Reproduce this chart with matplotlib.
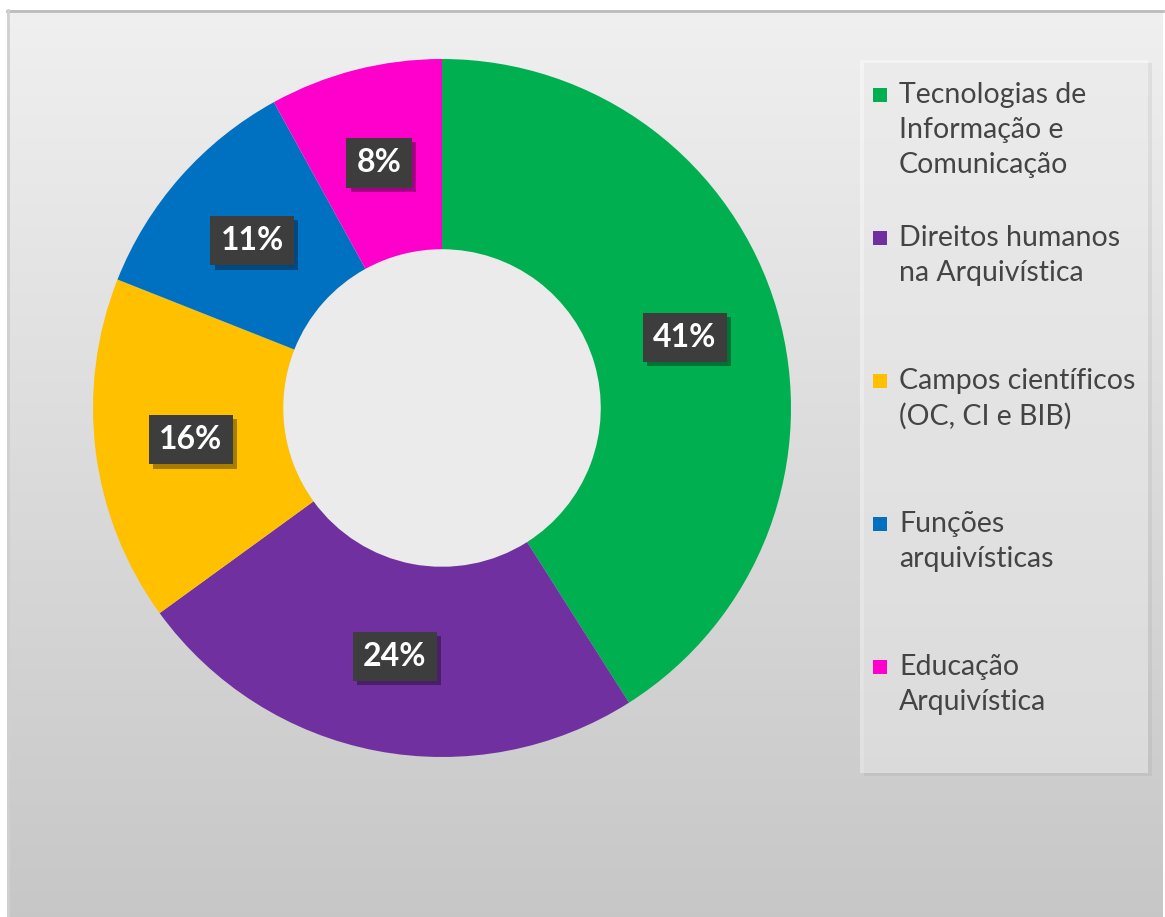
import matplotlib.pyplot as plt
import numpy as np
from matplotlib.patches import Rectangle, Circle
import matplotlib.patheffects as pe

# data
categories = ['Tecnologias de\nInformação e\nComunicação',
              'Direitos humanos\nna Arquivística',
              'Campos científicos\n(OC, CI e BIB)',
              'Funções\narquivísticas',
              'Educação\nArquivística']
values = [41, 24, 16, 11, 8]
colors = ['#00b050', '#7030a0', '#ffc000', '#0070c0', '#ff00cc']

W, H = 1165, 917
fig = plt.figure(figsize=(W / 100, H / 100), dpi=100)
fig.patch.set_facecolor('white')

# background panel with a vertical grey gradient (pixel coordinates)
bg = fig.add_axes([0, 0, 1, 1])
bg.set_xlim(0, W)
bg.set_ylim(H, 0)
bg.axis('off')
g = np.linspace(0, 1, 256)[:, None, None]
top = np.array([0.94, 0.94, 0.94])
bot = np.array([0.78, 0.78, 0.78])
img = top * (1 - g) + bot * g
bg.imshow(img, extent=[7, 1163, 917, 10], aspect='auto', zorder=0)
bg.plot([7, 1163], [11, 11], color='#bcbcbc', lw=2, zorder=1)
bg.plot([8, 8], [10, 917], color='#d0d0d0', lw=2, zorder=1)

# legend box
bg.add_patch(Rectangle((864, 63), 288, 713, fc='#808080', alpha=0.12, ec='none', zorder=1))
bg.add_patch(Rectangle((860, 60), 288, 713, fc='white', alpha=0.4, ec='none', zorder=2))
for i, (lab, c) in enumerate(zip(categories, colors)):
    y0 = 95 + i * 143
    bg.add_patch(Rectangle((873, y0 - 7), 14, 14, fc=c, ec='none', zorder=3))
    bg.text(899, y0 - 13, lab, ha='left', va='top', fontsize=20.5, family='Lato',
            color='#444444', linespacing=1.42, zorder=3)

# donut
R = 349
ax = fig.add_axes([(442 - R) / W, (H - 408 - R) / H, 2 * R / W, 2 * R / H])
wedges, _ = ax.pie(values, colors=colors, startangle=90, counterclock=False,
                   radius=1, wedgeprops=dict(width=0.545, linewidth=0))
ax.add_patch(Circle((0, 0), 0.455, fc='#ebebeb', ec='none', zorder=0))
ax.set_xlim(-1, 1)
ax.set_ylim(-1, 1)
ax.axis('off')

for w, v in zip(wedges, values):
    ang = np.deg2rad((w.theta1 + w.theta2) / 2)
    r = 0.725
    x, y = r * np.cos(ang), r * np.sin(ang)
    t = ax.text(x, y, f'{v}%', ha='center', va='center', fontsize=23, fontweight='bold',
                family='Lato', color='white',
                bbox=dict(boxstyle='square,pad=0.32', fc='#3d3d3d', ec='none'))
    t.get_bbox_patch().set_path_effects([
        pe.SimplePatchShadow(offset=(3, -3), shadow_rgbFace='black', alpha=0.35),
        pe.Normal()])

fig.savefig('out.png', dpi=100)
